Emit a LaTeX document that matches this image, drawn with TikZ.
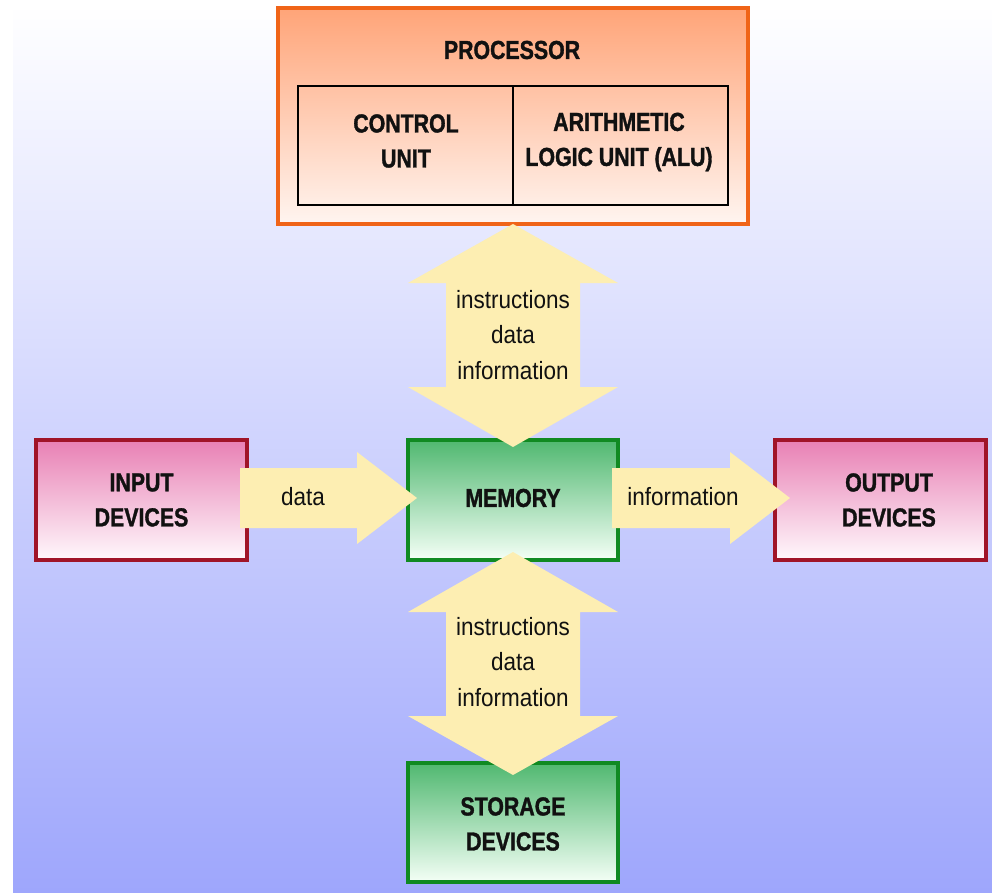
\documentclass[tikz,border=0pt]{standalone}
\usepackage{fontspec}
\setmainfont{Liberation Sans}
\newfontfamily\regf[FakeStretch=0.9]{Liberation Sans}
\newfontfamily\boldf[FakeStretch=0.82,FakeBold=1.3]{Liberation Sans Bold}
\usetikzlibrary{calc}
\definecolor{bgbot}{HTML}{9EA6FC}
\definecolor{procline}{HTML}{F06418}
\definecolor{proctop}{HTML}{FFA478}
\definecolor{procbot}{HTML}{FFF5F0}
\definecolor{pinkline}{HTML}{A01428}
\definecolor{pinktop}{HTML}{E880B4}
\definecolor{pinkbot}{HTML}{FFF8FC}
\definecolor{greenline}{HTML}{108A22}
\definecolor{greentop}{HTML}{50B870}
\definecolor{greenbot}{HTML}{F4FFF6}
\definecolor{arrfill}{HTML}{FDEEB2}
\definecolor{txt}{HTML}{111111}
\tikzset{
  box/.style={draw, line width=3.2pt, inner sep=0pt, outer sep=0pt},
  procbox/.style={box, draw=procline, top color=proctop, bottom color=procbot},
  innerbox/.style={box, draw=black, line width=2.8pt},
  pinkbox/.style={box, draw=pinkline, top color=pinktop, bottom color=pinkbot},
  greenbox/.style={box, draw=greenline, top color=greentop, bottom color=greenbot},
  blockarrow/.style={fill=arrfill, draw=none},
  headtxt/.style={font=\boldf\fontsize{26}{35}\selectfont, align=center, text=txt, inner sep=0pt},
  flowtxt/.style={font=\regf\fontsize{25}{35.5}\selectfont, align=center, text=txt, inner sep=0pt}
}
\begin{document}
\begin{tikzpicture}[x=1pt,y=-1pt]
\useasboundingbox (0,0) rectangle (992,892);
\fill[white] (0,0) rectangle (992,892);
\shade[top color=white, bottom color=bgbot] (13,5) rectangle (992,892);

% boxes
\node[procbox, minimum width=470, minimum height=216] (proc) at (513,116) {};
\node[innerbox, minimum width=215, minimum height=119] (cu) at (405.5,145.5) {};
\node[innerbox, minimum width=215, minimum height=119] (alu) at (620.5,145.5) {};
\node[greenbox, minimum width=210, minimum height=120] (mem) at (513,500) {};
\node[pinkbox, minimum width=211, minimum height=120] (in) at (141.5,500) {};
\node[pinkbox, minimum width=211, minimum height=120] (out) at (880.5,500) {};
\node[greenbox, minimum width=210, minimum height=119] (stor) at (513,822.5) {};

% block arrows
\fill[blockarrow] (proc.south) -- ++(105,59) -- ++(-38,0) -- ++(0,104) -- ++(38,0)
  -- ++(-105,60) -- ++(-105,-60) -- ++(38,0) -- ++(0,-104) -- ++(-38,0) -- cycle;
\fill[blockarrow] ($(mem.south)+(0,-8)$) -- ++(105,60) -- ++(-38,0) -- ++(0,104) -- ++(38,0)
  -- ++(-105,59) -- ++(-105,-59) -- ++(38,0) -- ++(0,-104) -- ++(-38,0) -- cycle;
\fill[blockarrow] ($(in.east)+(-7,-32)$) -- ++(117,0) -- ++(0,-16) -- ++(60,46)
  -- ++(-60,46) -- ++(0,-16) -- ++(-117,0) -- cycle;
\fill[blockarrow] ($(mem.east)+(-6,-32)$) -- ++(118,0) -- ++(0,-16) -- ++(60,46)
  -- ++(-60,46) -- ++(0,-16) -- ++(-118,0) -- cycle;

% texts
\node[headtxt] (proct) at (512,50) {PROCESSOR};
\node[headtxt] (cut) at (406,141) {CONTROL\\UNIT};
\node[headtxt] (alut) at (619,142) {ARITHMETIC\\LOGIC UNIT (ALU)};
\node[headtxt] (memt) at (513,498) {MEMORY};
\node[headtxt] (int) at (141.5,500) {INPUT\\DEVICES};
\node[headtxt] (outt) at (889,500) {OUTPUT\\DEVICES};
\node[headtxt] (stort) at (513,824) {STORAGE\\DEVICES};
\node[flowtxt] (up) at (513,335) {instructions\\data\\information};
\node[flowtxt] (down) at (513,662) {instructions\\data\\information};
\node[flowtxt] (datat) at (303,497) {data};
\node[flowtxt] (infot) at (683,497) {information};
\end{tikzpicture}
\end{document}
